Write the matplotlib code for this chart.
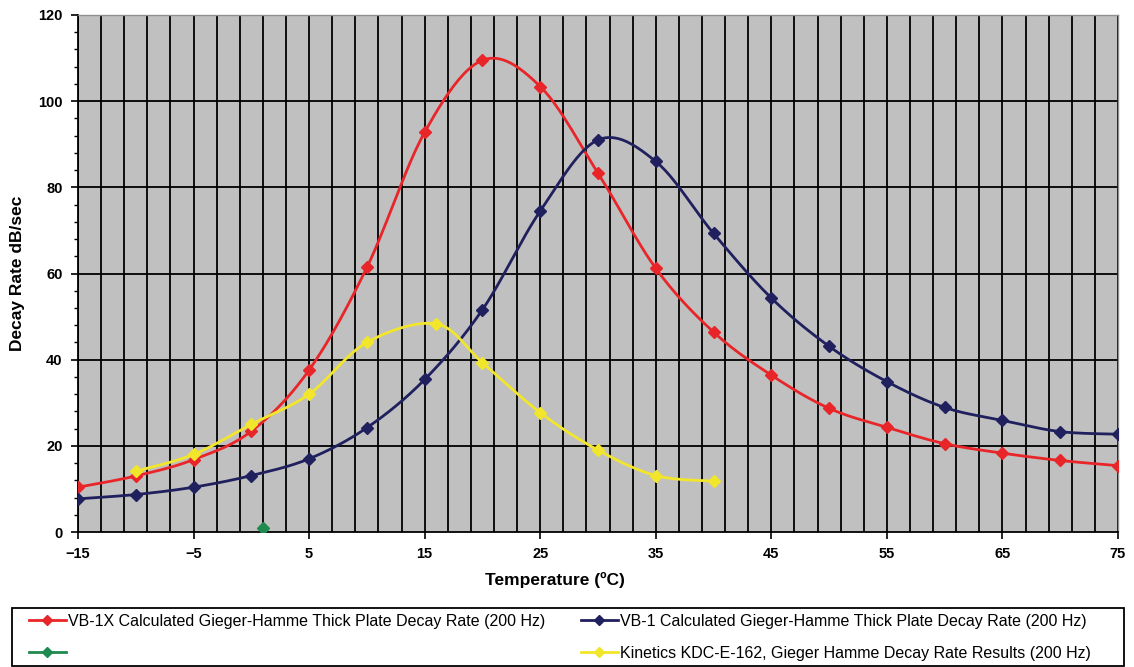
import numpy as np
import matplotlib
matplotlib.use("Agg")
import matplotlib.pyplot as plt
from matplotlib.lines import Line2D
from matplotlib.patches import Rectangle
from matplotlib.ticker import MultipleLocator, FixedLocator

# ---------------- data ----------------
temps = [-15, -10, -5, 0, 5, 10, 15, 20, 25, 30, 35, 40, 45, 50, 55, 60, 65, 70, 75]
vb1x = [10.4, 13.0, 16.8, 23.4, 37.6, 61.4, 92.8, 109.5, 103.4, 83.3, 61.2,
        46.4, 36.4, 28.7, 24.3, 20.5, 18.3, 16.6, 15.4]
vb1 = [7.7, 8.7, 10.4, 13.1, 17.0, 24.2, 35.4, 51.6, 74.5, 91.0, 86.0,
       69.3, 54.3, 43.1, 34.9, 28.9, 25.9, 23.3, 22.7]
kin_temps = [-10, -5, 0, 5, 10, 16, 20, 25, 30, 35, 40]
kin = [14.1, 18.0, 25.0, 32.0, 44.0, 48.3, 39.3, 27.7, 19.0, 13.1, 11.8]
green_temps = [1]
green_vals = [1.0]

labels = [
    "VB-1X Calculated Gieger-Hamme Thick Plate Decay Rate (200 Hz)",
    "VB-1 Calculated Gieger-Hamme Thick Plate Decay Rate (200 Hz)",
    "",
    "Kinetics KDC-E-162, Gieger Hamme Decay Rate Results (200 Hz)",
]

RED = "#E8262A"
NAVY = "#20205E"
YELLOW = "#F2E62C"
GREEN = "#1E8A4E"

FONT = ["Liberation Sans", "DejaVu Sans"]
plt.rcParams["font.family"] = FONT

W, H = 1134, 667


def smooth(xs, ys, n=25):
    P = np.column_stack([xs, ys]).astype(float)
    out = [P[0]]
    for i in range(len(P) - 1):
        p0 = P[i - 1] if i > 0 else P[i]
        p3 = P[i + 2] if i + 2 < len(P) else P[i + 1]
        p1, p2 = P[i], P[i + 1]
        c1 = p1 + (p2 - p0) / 6.0
        c2 = p2 - (p3 - p1) / 6.0
        t = np.linspace(0, 1, n)[1:, None]
        seg = ((1 - t) ** 3) * p1 + 3 * ((1 - t) ** 2) * t * c1 \
            + 3 * (1 - t) * (t ** 2) * c2 + (t ** 3) * p2
        out.extend(seg)
    return np.array(out)


fig = plt.figure(figsize=(W / 100, H / 100), dpi=100)
ax = fig.add_axes([78 / W, 1 - 532 / H, (1118 - 78) / W, (532 - 15) / H])
ax.set_facecolor("#C0C0C0")

# grid
for gx in np.arange(-15, 75.1, 2):
    ax.axvline(gx, color="black", lw=1.3, zorder=1)
for gy in range(20, 121, 20):
    ax.axhline(gy, color="black", lw=1.3, zorder=1)

series = [
    (temps, vb1x, RED),
    (temps, vb1, NAVY),
    (kin_temps, kin, YELLOW),
]
for xs, ys, c in series:
    s = smooth(xs, ys)
    ax.plot(s[:, 0], s[:, 1], color=c, lw=2.0, zorder=3, solid_capstyle="round")
    ax.plot(xs, ys, linestyle="none", marker="D", ms=6.5, color=c, zorder=4)
ax.plot(green_temps, green_vals, linestyle="none", marker="D", ms=6.5, color=GREEN, zorder=4)

ax.set_xlim(-15, 75)
ax.set_ylim(0, 120)
ax.xaxis.set_major_locator(FixedLocator(np.arange(-15, 76, 10)))
ax.yaxis.set_major_locator(MultipleLocator(20))
ax.yaxis.set_minor_locator(MultipleLocator(4))
ax.tick_params(axis="both", which="major", direction="out", length=5, width=1.2,
               color="black", labelsize=10.5, pad=6)
ax.tick_params(axis="y", which="minor", direction="out", length=3, width=1.0)
for lab in ax.get_xticklabels() + ax.get_yticklabels():
    lab.set_fontweight("bold")

for sp in ("left", "bottom"):
    ax.spines[sp].set_color("black")
    ax.spines[sp].set_linewidth(1.3)
for sp in ("top", "right"):
    ax.spines[sp].set_color("#909090")
    ax.spines[sp].set_linewidth(1.0)

ax.set_xlabel("Temperature (ºC)", fontsize=12.5, fontweight="bold")
ax.xaxis.set_label_coords((555 - 78) / 1040, -(580 - 532) / 517, transform=ax.transAxes)
ax.xaxis.label.set_va("center")
ax.set_ylabel("Decay Rate dB/sec", fontsize=12.5, fontweight="bold")
ax.yaxis.set_label_coords(-(78 - 18) / 1040, 0.5, transform=ax.transAxes)
ax.yaxis.label.set_va("center")

# legend frame
fig.patches.append(Rectangle((12 / W, 1 - 666 / H), 1112 / W, 58 / H,
                             transform=fig.transFigure, fill=False,
                             edgecolor="black", linewidth=1.3))


def mk(c):
    return Line2D([], [], color=c, lw=2, marker="D", ms=5)


leg_kw = dict(loc="upper left", fontsize=11.5, frameon=False, handlelength=2.3,
              handletextpad=0.15, borderpad=0, borderaxespad=0, labelspacing=1.05)
leg1 = fig.legend([mk(RED), mk(GREEN)], [labels[0], labels[2]],
                  bbox_to_anchor=(29 / W, 1 - 614 / H), **leg_kw)
leg2 = fig.legend([mk(NAVY), mk(YELLOW)], [labels[1], labels[3]],
                  bbox_to_anchor=(581 / W, 1 - 614 / H), **leg_kw)

fig.savefig("out.png", dpi=100, facecolor="white")
